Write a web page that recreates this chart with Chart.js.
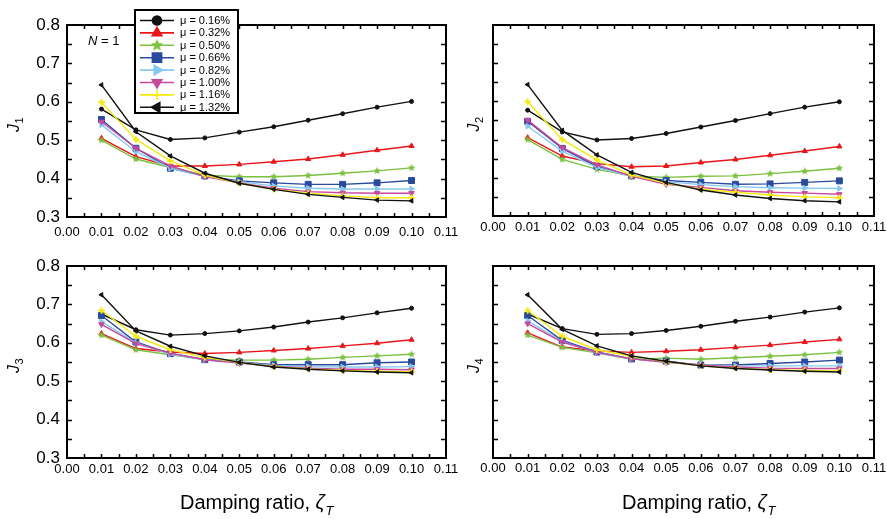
<!DOCTYPE html>
<html>
<head>
<meta charset="utf-8">
<script src="https://cdn.jsdelivr.net/npm/chart.js@4.4.0/dist/chart.umd.min.js"></script>
<style>
  body { margin: 0; background: #fff; }
  #wrap { position: relative; width: 887px; height: 519px; }
  #wrap canvas { position: absolute; }
</style>
</head>
<body>
<div id="wrap">
  <canvas id="c1" width="460" height="250" style="left:0;top:0"></canvas>
  <canvas id="c2" width="427" height="250" style="left:460px;top:0"></canvas>
  <canvas id="c3" width="460" height="269" style="left:0;top:250px"></canvas>
  <canvas id="c4" width="427" height="269" style="left:460px;top:250px"></canvas>
</div>
<script>
// damping ratio values (x)
const zeta = [0.01, 0.02, 0.03, 0.04, 0.05, 0.06, 0.07, 0.08, 0.09, 0.10];
const muLabels = ['μ = 0.16%', 'μ = 0.32%', 'μ = 0.50%', 'μ = 0.66%', 'μ = 0.82%', 'μ = 1.00%', 'μ = 1.16%', 'μ = 1.32%'];
const xTicks = [0.00, 0.01, 0.02, 0.03, 0.04, 0.05, 0.06, 0.07, 0.08, 0.09, 0.10, 0.11];
const yTicks = [0.3, 0.4, 0.5, 0.6, 0.7, 0.8];

// J1 .. J4, one row per mass ratio (same order as muLabels)
const J1 = [
  [0.581, 0.527, 0.502, 0.506, 0.521, 0.535, 0.552, 0.569, 0.586, 0.601],
  [0.505, 0.457, 0.433, 0.433, 0.437, 0.444, 0.451, 0.462, 0.474, 0.485],
  [0.500, 0.451, 0.429, 0.409, 0.405, 0.405, 0.408, 0.414, 0.420, 0.428],
  [0.554, 0.479, 0.427, 0.407, 0.394, 0.389, 0.385, 0.385, 0.389, 0.395],
  [0.540, 0.470, 0.427, 0.405, 0.392, 0.381, 0.375, 0.373, 0.373, 0.373],
  [0.548, 0.479, 0.433, 0.405, 0.389, 0.375, 0.366, 0.363, 0.362, 0.362],
  [0.599, 0.502, 0.446, 0.409, 0.388, 0.372, 0.362, 0.355, 0.350, 0.350],
  [0.644, 0.522, 0.459, 0.414, 0.388, 0.372, 0.359, 0.351, 0.344, 0.342]
];
const J2 = [
  [0.577, 0.520, 0.499, 0.503, 0.516, 0.533, 0.550, 0.568, 0.585, 0.599],
  [0.505, 0.457, 0.437, 0.429, 0.431, 0.440, 0.448, 0.459, 0.470, 0.482],
  [0.500, 0.448, 0.422, 0.405, 0.401, 0.404, 0.405, 0.411, 0.417, 0.425],
  [0.548, 0.477, 0.430, 0.405, 0.393, 0.388, 0.383, 0.384, 0.388, 0.392],
  [0.535, 0.470, 0.427, 0.404, 0.390, 0.382, 0.377, 0.374, 0.373, 0.372],
  [0.551, 0.479, 0.434, 0.404, 0.383, 0.375, 0.366, 0.362, 0.360, 0.357],
  [0.599, 0.500, 0.447, 0.407, 0.386, 0.370, 0.362, 0.355, 0.350, 0.348],
  [0.644, 0.524, 0.460, 0.414, 0.388, 0.368, 0.355, 0.346, 0.340, 0.337]
];
const J3 = [
  [0.675, 0.634, 0.620, 0.624, 0.631, 0.641, 0.654, 0.665, 0.678, 0.690],
  [0.624, 0.585, 0.576, 0.572, 0.575, 0.580, 0.585, 0.592, 0.599, 0.608],
  [0.620, 0.582, 0.569, 0.557, 0.555, 0.555, 0.557, 0.562, 0.566, 0.570],
  [0.671, 0.602, 0.572, 0.556, 0.550, 0.543, 0.543, 0.543, 0.548, 0.550],
  [0.655, 0.600, 0.570, 0.556, 0.548, 0.541, 0.538, 0.537, 0.537, 0.538],
  [0.648, 0.598, 0.573, 0.556, 0.547, 0.539, 0.534, 0.531, 0.531, 0.530],
  [0.684, 0.617, 0.582, 0.562, 0.549, 0.538, 0.532, 0.528, 0.526, 0.525],
  [0.725, 0.631, 0.591, 0.566, 0.549, 0.537, 0.531, 0.527, 0.524, 0.522]
];
const J4 = [
  [0.675, 0.637, 0.622, 0.624, 0.632, 0.643, 0.656, 0.667, 0.680, 0.691],
  [0.626, 0.589, 0.579, 0.575, 0.578, 0.582, 0.588, 0.594, 0.602, 0.609],
  [0.620, 0.588, 0.574, 0.557, 0.560, 0.557, 0.561, 0.565, 0.569, 0.575],
  [0.671, 0.606, 0.576, 0.558, 0.552, 0.542, 0.542, 0.546, 0.550, 0.555],
  [0.657, 0.603, 0.574, 0.558, 0.549, 0.543, 0.540, 0.540, 0.540, 0.540],
  [0.650, 0.602, 0.575, 0.558, 0.549, 0.542, 0.537, 0.534, 0.533, 0.533],
  [0.684, 0.617, 0.582, 0.565, 0.551, 0.540, 0.534, 0.530, 0.528, 0.527],
  [0.725, 0.635, 0.592, 0.566, 0.552, 0.540, 0.533, 0.529, 0.526, 0.524]
];

const FONT = '"Liberation Sans", Arial, sans-serif';
const colors = ['#111111', '#e8161b', '#7cc040', '#2a4a9e', '#86c9ee', '#c8489e', '#f4ea10', '#111111'];

// filled five point star used for mu = 0.50 %
function makeStar(size, color) {
  const c = document.createElement('canvas');
  c.width = size; c.height = size;
  const g = c.getContext('2d');
  const r = size / 2, ri = r * 0.45;
  g.fillStyle = color;
  g.beginPath();
  for (let i = 0; i < 10; i++) {
    const rr = i % 2 ? ri : r;
    const a = -Math.PI / 2 + i * Math.PI / 5;
    g.lineTo(r + rr * Math.cos(a), r + rr * Math.sin(a));
  }
  g.closePath();
  g.fill();
  return c;
}

const plotMarks = [
  { style: 'circle', rot: 0, r: 2, bw: 1 },
  { style: 'triangle', rot: 0, r: 3, bw: 1 },
  { style: makeStar(8, colors[2]), rot: 0, r: 4, bw: 1 },
  { style: 'rect', rot: 0, r: 4.2, bw: 1 },
  { style: 'triangle', rot: 90, r: 3.2, bw: 1 },
  { style: 'triangle', rot: 180, r: 3.2, bw: 1 },
  { style: 'cross', rot: 0, r: 3.2, bw: 2 },
  { style: 'triangle', rot: -90, r: 2.6, bw: 1 }
];
const legendMarks = [
  { style: 'circle', rot: 0, r: 4.5, bw: 1 },
  { style: 'triangle', rot: 0, r: 5.5, bw: 1 },
  { style: makeStar(13, colors[2]), rot: 0, r: 6, bw: 1 },
  { style: 'rect', rot: 0, r: 6.5, bw: 1 },
  { style: 'triangle', rot: 90, r: 5.5, bw: 1 },
  { style: 'triangle', rot: 180, r: 5.5, bw: 1 },
  { style: 'cross', rot: 0, r: 5, bw: 2.5 },
  { style: 'triangle', rot: -90, r: 5.5, bw: 1 }
];

function drawMark(ctx, m, x, y) {
  if (Chart.helpers && Chart.helpers.drawPoint) {
    Chart.helpers.drawPoint(ctx, { pointStyle: m.style, rotation: m.rot, radius: m.r, borderWidth: m.bw }, x, y);
  } else {
    ctx.beginPath();
    ctx.arc(x, y, m.r, 0, Math.PI * 2);
    ctx.fill();
  }
}

// italic symbol with a subscript, drawn at (x, y) as the text start
function symbolSub(ctx, main, sub, x, y, size, subSize) {
  ctx.font = 'italic ' + size + 'px ' + FONT;
  ctx.fillText(main, x, y);
  const w = ctx.measureText(main).width;
  ctx.font = 'italic ' + subSize + 'px ' + FONT;
  ctx.fillText(sub, x + w + 0.5, y + size * 0.3);
  return w + ctx.measureText(sub).width;
}

const deco = {
  id: 'deco',
  afterDraw(chart, args, o) {
    const { ctx, chartArea: a, scales } = chart;
    const xs = scales.x, ys = scales.y;
    ctx.save();
    ctx.strokeStyle = '#000';
    ctx.fillStyle = '#000';

    // frame with inward ticks on all four sides
    ctx.lineWidth = 2;
    ctx.strokeRect(a.left, a.top, a.right - a.left, a.bottom - a.top);
    ctx.lineWidth = 1.5;
    ctx.beginPath();
    const xMarks = [];
    xTicks.forEach((v, k) => {
      if (k > 0 && k < xTicks.length - 1) xMarks.push(v);
      if (k < xTicks.length - 1) xMarks.push((v + xTicks[k + 1]) / 2);
    });
    xMarks.forEach(v => {
      const px = Math.round(xs.getPixelForValue(v)) + 0.5;
      ctx.moveTo(px, a.bottom); ctx.lineTo(px, a.bottom - 4);
      ctx.moveTo(px, a.top); ctx.lineTo(px, a.top + 4);
    });
    const yMarks = [];
    yTicks.forEach((v, k) => {
      if (k > 0 && k < yTicks.length - 1) yMarks.push(v);
      if (k < yTicks.length - 1) yMarks.push((v + yTicks[k + 1]) / 2);
    });
    yMarks.forEach(v => {
      const py = Math.round(ys.getPixelForValue(v)) + 0.5;
      ctx.moveTo(a.left, py); ctx.lineTo(a.left + 5, py);
      ctx.moveTo(a.right, py); ctx.lineTo(a.right - 5, py);
    });
    ctx.stroke();

    // y axis title J_n
    ctx.save();
    ctx.translate(o.yTitleX, (a.top + a.bottom) / 2 + 4);
    ctx.rotate(-Math.PI / 2);
    ctx.textBaseline = 'alphabetic';
    ctx.font = 'italic 16px ' + FONT;
    const wj = ctx.measureText('J').width;
    ctx.font = '11px ' + FONT;
    const ws = ctx.measureText(o.sub).width;
    const sx = -(wj + ws) / 2;
    ctx.font = 'italic 16px ' + FONT;
    ctx.fillText('J', sx, 0);
    ctx.font = '11px ' + FONT;
    ctx.fillText(o.sub, sx + wj + 0.5, 4);
    ctx.restore();

    // x axis title
    if (o.xTitleX) {
      ctx.textBaseline = 'alphabetic';
      ctx.font = '20px ' + FONT;
      const t = 'Damping ratio, ';
      ctx.fillText(t, o.xTitleX, o.xTitleY);
      const w = ctx.measureText(t).width;
      symbolSub(ctx, 'ζ', 'T', o.xTitleX + w, o.xTitleY, 20, 13);
    }

    if (o.legend) {
      ctx.font = 'italic 13px ' + FONT;
      ctx.textBaseline = 'alphabetic';
      ctx.fillText('N', 88, 45);
      const wn = ctx.measureText('N').width;
      ctx.font = '13px ' + FONT;
      ctx.fillText(' = 1', 88 + wn, 45);

      // legend box
      ctx.fillStyle = '#fff';
      ctx.fillRect(135, 10, 103, 103);
      ctx.lineWidth = 2;
      ctx.strokeStyle = '#000';
      ctx.strokeRect(135, 10, 103, 103);
      ctx.font = '11px ' + FONT;
      ctx.textBaseline = 'middle';
      muLabels.forEach((lab, i) => {
        const y = 20.5 + i * 12.4;
        ctx.strokeStyle = colors[i];
        ctx.fillStyle = colors[i];
        ctx.lineWidth = 1.6;
        ctx.beginPath();
        ctx.moveTo(140, y); ctx.lineTo(174, y);
        ctx.stroke();
        drawMark(ctx, legendMarks[i], 157, y);
        ctx.fillStyle = '#000';
        ctx.fillText(lab, 180, y + 0.5);
      });
    }
    ctx.restore();
  }
};

function makePanel(id, rows, p) {
  return new Chart(document.getElementById(id), {
    type: 'line',
    data: {
      datasets: rows.map((vals, i) => ({
        label: muLabels[i],
        data: zeta.map((z, k) => ({ x: z, y: vals[k] })),
        borderColor: colors[i],
        backgroundColor: colors[i],
        borderWidth: 1.4,
        pointStyle: plotMarks[i].style,
        pointRotation: plotMarks[i].rot,
        pointRadius: plotMarks[i].r,
        pointBorderWidth: plotMarks[i].bw,
        tension: 0,
        order: rows.length - i
      }))
    },
    options: {
      responsive: false,
      animation: false,
      events: [],
      layout: { padding: p.pad },
      plugins: {
        legend: { display: false },
        tooltip: { enabled: false },
        deco: p.deco
      },
      scales: {
        x: {
          type: 'linear', min: 0, max: 0.11,
          afterBuildTicks: s => { s.ticks = xTicks.map(v => ({ value: v })); },
          afterFit: s => { s.height = p.xh; s.paddingLeft = 0; s.paddingRight = 0; },
          grid: { display: false, drawTicks: false },
          border: { display: false },
          ticks: {
            padding: p.xpad, color: '#000', autoSkip: false, maxRotation: 0,
            font: { family: FONT, size: 13 },
            callback: v => v.toFixed(2)
          }
        },
        y: {
          type: 'linear', min: 0.3, max: 0.8,
          afterBuildTicks: s => { s.ticks = yTicks.map(v => ({ value: v })); },
          afterFit: s => { s.width = p.yw; s.paddingTop = 0; s.paddingBottom = 0; },
          grid: { display: false, drawTicks: false },
          border: { display: false },
          ticks: {
            display: p.yLabels, padding: 7, color: '#000',
            font: { family: FONT, size: 17 },
            callback: v => v.toFixed(1)
          }
        }
      }
    },
    plugins: [deco]
  });
}

makePanel('c1', J1, { pad: { top: 25, right: 14, left: 0, bottom: 0 }, xh: 33, yw: 67, xpad: 8, yLabels: true,
  deco: { sub: '1', yTitleX: 19, legend: true } });
makePanel('c2', J2, { pad: { top: 25, right: 13, left: 0, bottom: 0 }, xh: 34, yw: 33, xpad: 4, yLabels: false,
  deco: { sub: '2', yTitleX: 19 } });
makePanel('c3', J3, { pad: { top: 16, right: 14, left: 0, bottom: 0 }, xh: 61, yw: 67, xpad: 4, yLabels: true,
  deco: { sub: '3', yTitleX: 19, xTitleX: 180, xTitleY: 259 } });
makePanel('c4', J4, { pad: { top: 16, right: 13, left: 0, bottom: 0 }, xh: 61, yw: 33, xpad: 3, yLabels: false,
  deco: { sub: '4', yTitleX: 19, xTitleX: 162, xTitleY: 259 } });
</script>
</body>
</html>
